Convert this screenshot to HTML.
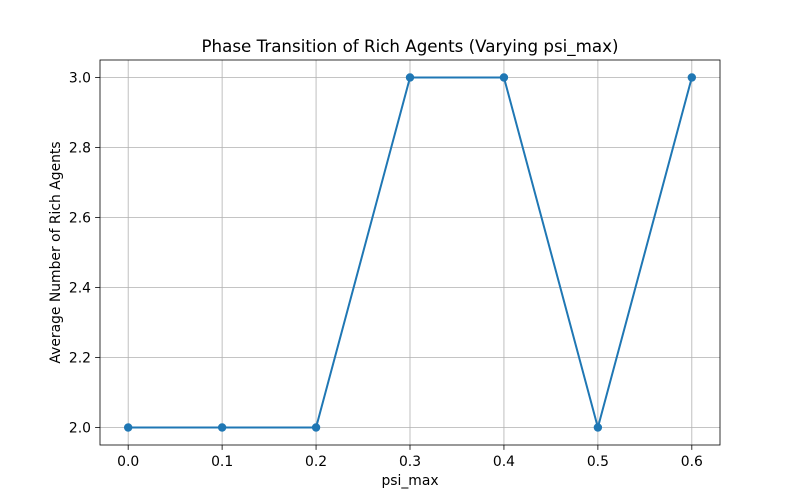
<!DOCTYPE html>
<html><head><meta charset="utf-8"><style>
body{margin:0;background:#fff;}
svg{display:block;font-family:"DejaVu Sans","Liberation Sans",sans-serif;}
</style></head><body>
<svg id="chart" width="800" height="500" viewBox="0 0 800 500">
<rect width="800" height="500" fill="#fff"/>
<g id="grid"></g>
<g id="ticks"></g>
<g id="series"></g>
<rect x="100" y="60" width="620" height="385" fill="none" stroke="#000" stroke-width="0.8"/>
<text x="410" y="52" text-anchor="middle" font-size="16.7">Phase Transition of Rich Agents (Varying psi_max)</text>
<text x="410" y="485" text-anchor="middle" font-size="13.9">psi_max</text>
<text transform="translate(60,252.5) rotate(-90)" text-anchor="middle" font-size="13.9">Average Number of Rich Agents</text>
</svg>
<script>
const xValues=[0.0,0.1,0.2,0.3,0.4,0.5,0.6];
const yValues=[2,2,2,3,3,2,3];
const xTicks=[0.0,0.1,0.2,0.3,0.4,0.5,0.6];
const yTicks=[2.0,2.2,2.4,2.6,2.8,3.0];
const L=100,R=720,T=60,B=445,x0=-0.03,x1=0.63,y0=1.95,y1=3.05;
const sx=v=>L+(v-x0)/(x1-x0)*(R-L);
const sy=v=>B-(v-y0)/(y1-y0)*(B-T);
const NS="http://www.w3.org/2000/svg";
const grid=document.getElementById('grid'),ticks=document.getElementById('ticks'),ser=document.getElementById('series');
function mk(tag,attrs,parent,txt){const e=document.createElementNS(NS,tag);for(const k in attrs)e.setAttribute(k,attrs[k]);if(txt!==undefined)e.textContent=txt;parent.appendChild(e);return e;}
xTicks.forEach(v=>{const x=sx(v);
let g=mk('line',{x1:x,x2:x,y1:T,y2:B,stroke:'#b0b0b0','stroke-width':0.8},grid);

mk('line',{x1:x,x2:x,y1:B,y2:B+4.9,stroke:'#000','stroke-width':0.8},ticks);
let t=mk('text',{x:x,y:B+21,'text-anchor':'middle','font-size':13.9},ticks,v.toFixed(1));
});
yTicks.forEach(v=>{const y=sy(v);
let g=mk('line',{x1:L,x2:R,y1:y,y2:y,stroke:'#b0b0b0','stroke-width':0.8},grid);

mk('line',{x1:L-4.9,x2:L,y1:y,y2:y,stroke:'#000','stroke-width':0.8},ticks);
let t=mk('text',{x:L-9,y:y+5,'text-anchor':'end','font-size':13.9},ticks,v.toFixed(1));
});
const pts=xValues.map((v,i)=>sx(v)+','+sy(yValues[i])).join(' ');
let pl=mk('polyline',{points:pts,fill:'none',stroke:'#1f77b4','stroke-width':2},ser);

xValues.forEach((v,i)=>{let c=mk('circle',{cx:sx(v),cy:sy(yValues[i]),r:4.2,fill:'#1f77b4'},ser);
});
</script>
</body></html>
